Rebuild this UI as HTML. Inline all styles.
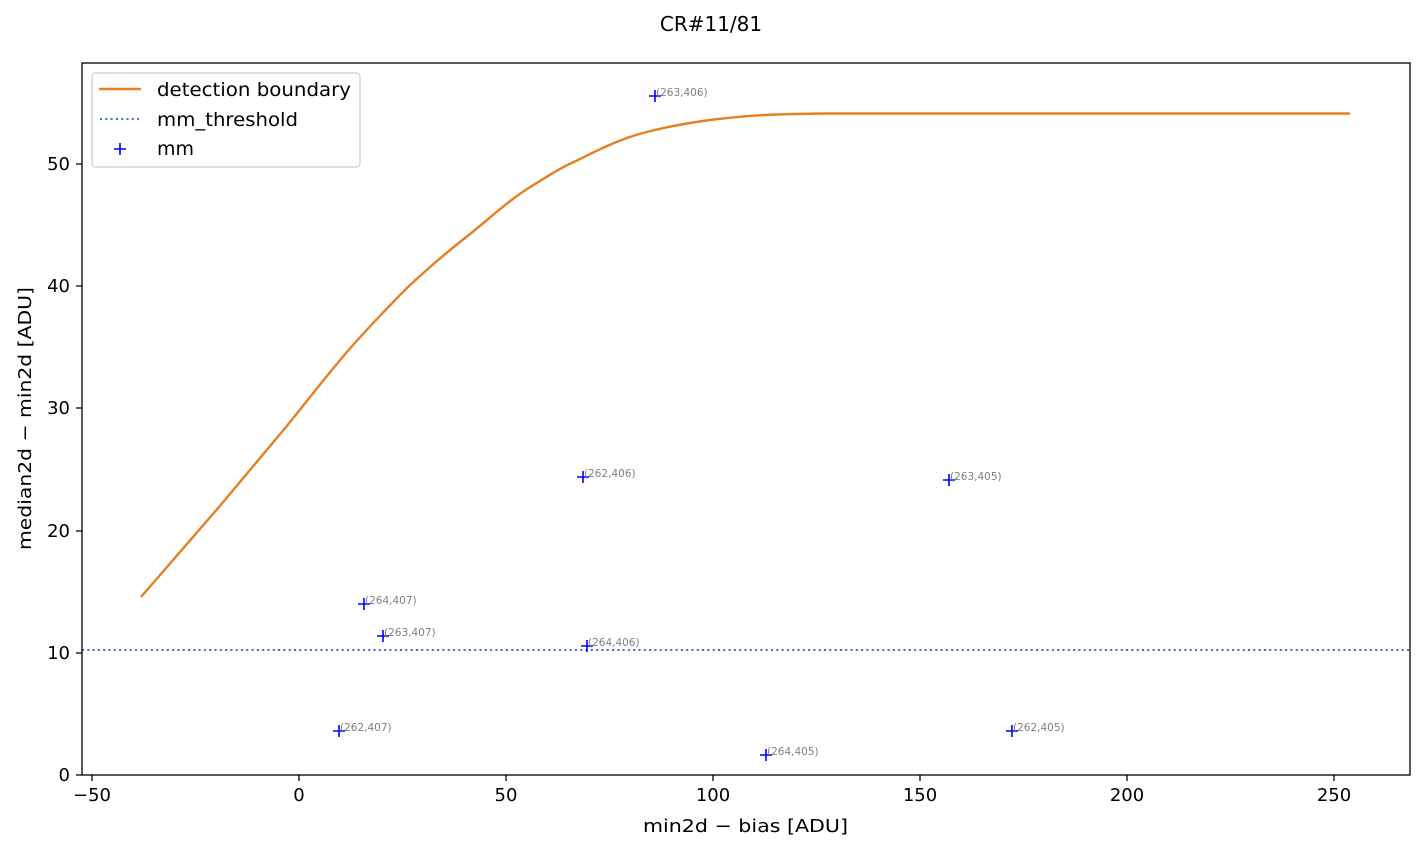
<!DOCTYPE html>
<html><head><meta charset="utf-8"><style>
body{margin:0;background:#fff;}
svg text{font-family:"DejaVu Sans","Liberation Sans",sans-serif;}
</style></head><body>
<svg width="1423" height="851" xmlns="http://www.w3.org/2000/svg">
<rect width="1423" height="851" fill="#fff"/>
<text x="711" y="31" font-size="20" text-anchor="middle">CR#11/81</text>
<line x1="82" y1="650" x2="1410" y2="650" stroke="#3a6fbf" stroke-width="2" stroke-dasharray="2,3.3"/>
<path fill="none" stroke="#e67e22" stroke-width="2.4" stroke-linejoin="round" d="M141,597 L219,507 C240,482 265,452 286,427 C308,400 330,371 353,345 C372,324 390,305 407,288 C427,269 446,253 465,238 C488,220 510,199 532,186 C548,176 560,168 576,161 C600,149 620,139 643,133 C665,127 688,123 710,120 C735,117 755,115 777,114.5 C795,114 810,113.5 830,113.5 L1350,113.5"/>
<g stroke="#0000ff" stroke-width="1.6">
<path d="M649,96h12M655,90v12"/>
<path d="M577,477h12M583,471v12"/>
<path d="M943,480h12M949,474v12"/>
<path d="M358,604h12M364,598v12"/>
<path d="M377,636h12M383,630v12"/>
<path d="M581,646h12M587,640v12"/>
<path d="M333,731h12M339,725v12"/>
<path d="M760,755h12M766,749v12"/>
<path d="M1006,731h12M1012,725v12"/>
</g>
<g font-size="10.5" fill="#808080">
<text x="656" y="96">(263,406)</text>
<text x="584" y="477">(262,406)</text>
<text x="950" y="480">(263,405)</text>
<text x="365" y="604">(264,407)</text>
<text x="384" y="636">(263,407)</text>
<text x="588" y="646">(264,406)</text>
<text x="340" y="731">(262,407)</text>
<text x="767" y="755">(264,405)</text>
<text x="1013" y="731">(262,405)</text>
</g>
<rect x="82" y="63" width="1328" height="712" fill="none" stroke="#000" stroke-width="1.3"/>
<g stroke="#000" stroke-width="1.3">
<path d="M92,775v6M299,775v6M506,775v6M713,775v6M920,775v6M1127,775v6M1334,775v6"/>
<path d="M82,775h-6M82,653h-6M82,531h-6M82,408h-6M82,286h-6M82,164h-6"/>
</g>
<g font-size="18" text-anchor="middle">
<text x="92" y="801">−50</text><text x="299" y="801">0</text><text x="506" y="801">50</text>
<text x="713" y="801">100</text><text x="920" y="801">150</text><text x="1127" y="801">200</text><text x="1334" y="801">250</text>
</g>
<g font-size="18" text-anchor="end">
<text x="70" y="781">0</text><text x="70" y="659">10</text><text x="70" y="537">20</text>
<text x="70" y="414">30</text><text x="70" y="292">40</text><text x="70" y="170">50</text>
</g>
<text x="643" y="832" font-size="18" textLength="205" lengthAdjust="spacingAndGlyphs">min2d − bias  [ADU]</text>
<text transform="translate(31,550) rotate(-90)" font-size="18" textLength="263" lengthAdjust="spacingAndGlyphs">median2d − min2d  [ADU]</text>
<rect x="92" y="73" width="268" height="94" rx="3" fill="#fff" stroke="#ccc" stroke-width="1.2"/>
<line x1="99" y1="89" x2="141" y2="89" stroke="#e67e22" stroke-width="2.4"/>
<line x1="100" y1="119" x2="140" y2="119" stroke="#3a6fbf" stroke-width="2" stroke-dasharray="2,3.3"/>
<path d="M114,149h12M120,143v12" stroke="#0000ff" stroke-width="1.6"/>
<g font-size="19">
<text x="157" y="96" textLength="194" lengthAdjust="spacingAndGlyphs">detection boundary</text>
<text x="157" y="126" textLength="141" lengthAdjust="spacingAndGlyphs">mm_threshold</text>
<text x="157" y="155" textLength="37" lengthAdjust="spacingAndGlyphs">mm</text>
</g>
</svg>
</body></html>
